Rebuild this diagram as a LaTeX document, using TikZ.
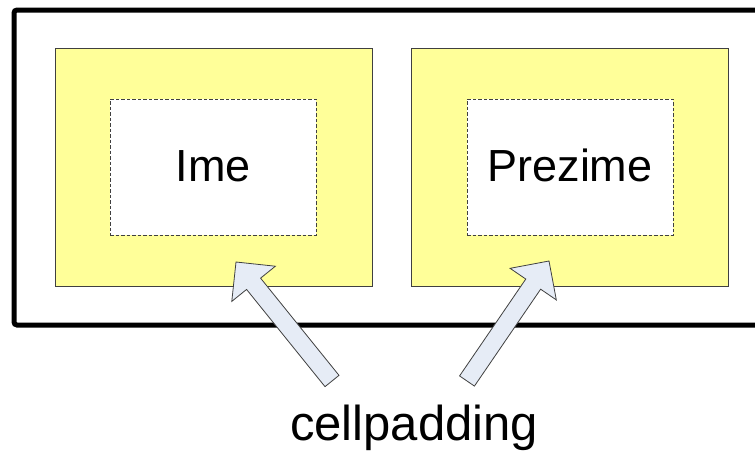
\documentclass[tikz,border=0pt]{standalone}
\usepackage{fontspec}
\setmainfont{Liberation Sans}
\usetikzlibrary{calc}
\definecolor{padyellow}{HTML}{FFFF99}
\definecolor{arrowfill}{HTML}{E6ECF6}
\definecolor{edgegray}{HTML}{404040}
\tikzset{
  cellbox/.style={fill=padyellow, draw=edgegray, line width=0.8pt, minimum width=317pt, minimum height=238pt, inner sep=0pt},
  contentbox/.style={fill=white, draw=edgegray, line width=0.9pt, dash pattern=on 3.5pt off 2pt, minimum width=206pt, minimum height=136pt, inner sep=0pt},
  celltext/.style={font=\fontsize{45}{50}\selectfont, anchor=base, inner sep=0pt},
  notetext/.style={font=\fontsize{49}{54}\selectfont, anchor=base, inner sep=0pt},
  blockarrow/.style={fill=arrowfill, draw=edgegray, line width=0.8pt, line join=miter},
}
\begin{document}
\begin{tikzpicture}[x=1pt,y=-1pt]
\clip (0,0) rectangle (755,451);
\fill[white] (0,0) rectangle (755,451);
% outer table
\draw[line width=5pt, rounded corners=3pt] (14,10) rectangle (790,325);
% cells
\node[cellbox] (cellA) at (213.5,167.5) {};
\node[cellbox] (cellB) at (570,167.5) {};
\node[contentbox] (contA) at (213,167) {};
\node[contentbox] (contB) at (570,167) {};
\node[celltext] (ime) at (213,181) {Ime};
\node[celltext] (prezime) at (570,181) {Prezime};
\node[notetext] (cp) at (414,440) {cellpadding};
% arrows
\coordinate (tA) at (332,381);
\coordinate (pA) at (236,262);
\coordinate (tB) at (467,381);
\coordinate (pB) at (549,261);
\foreach \t/\p in {tA/pA, tB/pB}{
  \path ($(\p)!28pt!(\t)$) coordinate (hh);
  \draw[blockarrow]
    ($(\t)!9pt!90:(\p)$) --
    ($(hh)!9pt!90:(\p)$) --
    ($(hh)!28pt!90:(\p)$) --
    (\p) --
    ($(hh)!28pt!-90:(\p)$) --
    ($(hh)!9pt!-90:(\p)$) --
    ($(\t)!9pt!-90:(\p)$) -- cycle;
}
\end{tikzpicture}
\end{document}
